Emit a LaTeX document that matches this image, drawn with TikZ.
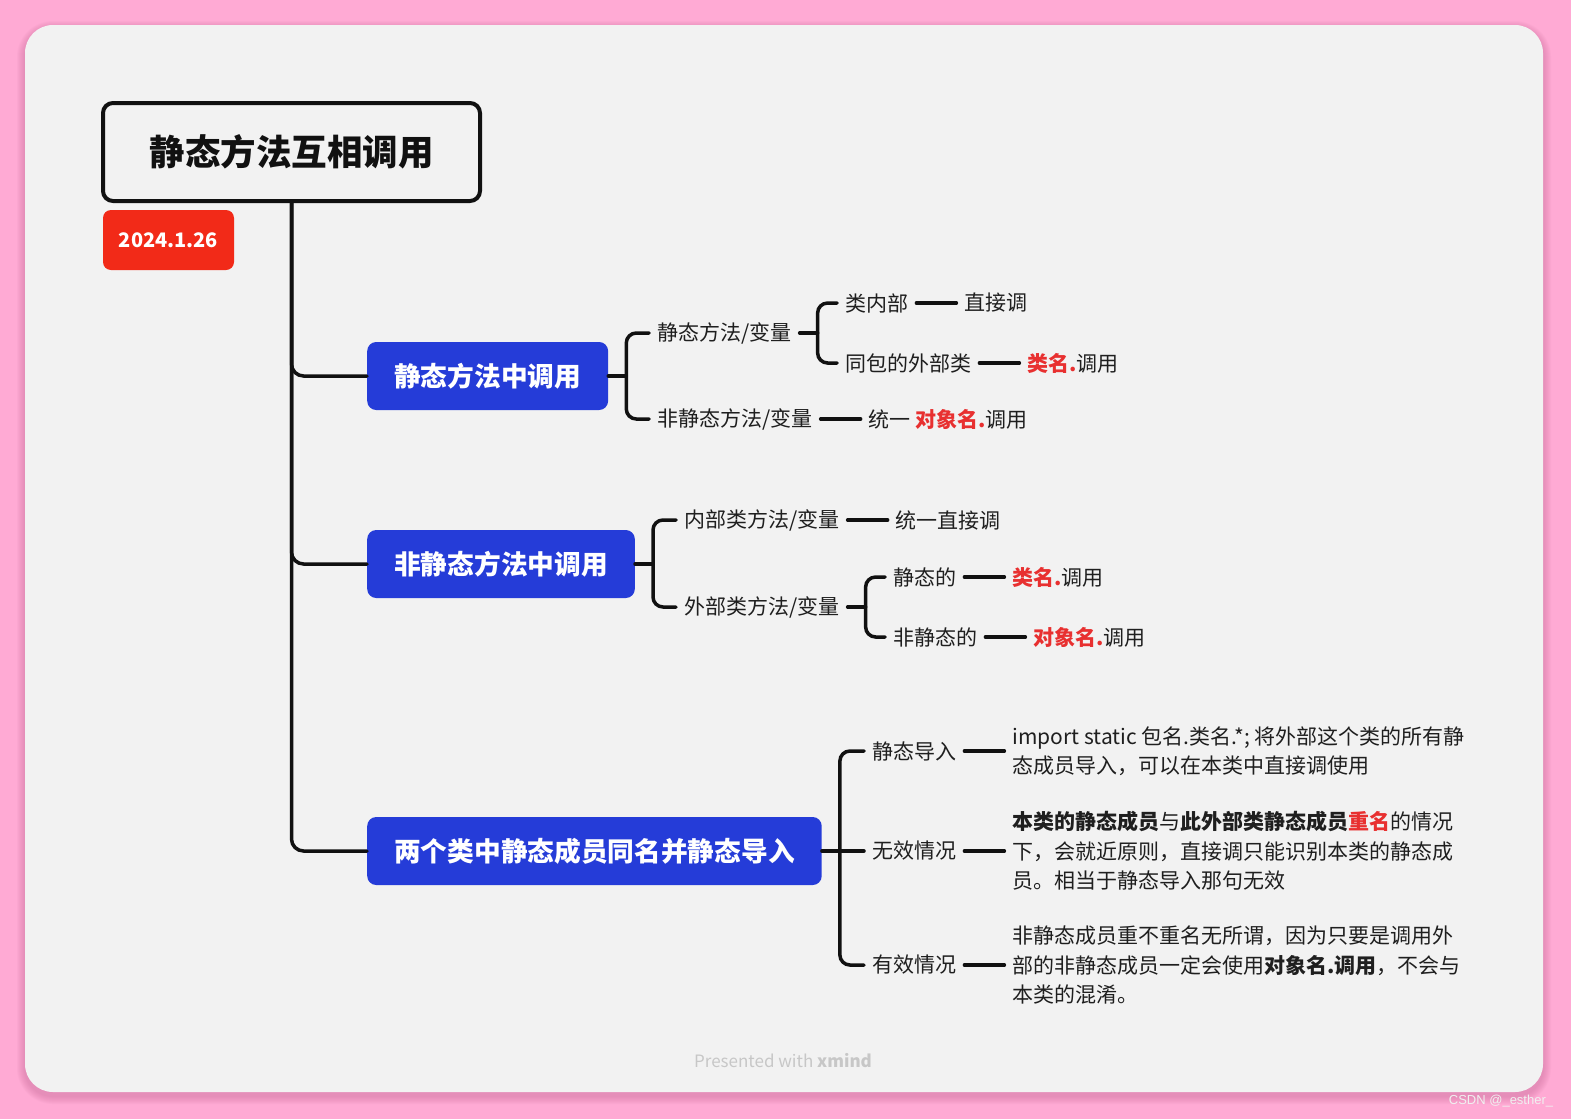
\documentclass[tikz,border=0pt]{standalone}
\usepackage{fontspec}
\setmainfont{Noto Sans CJK SC}
\newfontfamily\markfont{Liberation Sans}
\usepackage{xcolor}
\usetikzlibrary{positioning}

\definecolor{pagepink}{HTML}{FFAAD4}
\definecolor{shadepink}{HTML}{C0608F}
\definecolor{cardgray}{HTML}{F2F2F2}
\definecolor{topicblue}{HTML}{253CD8}
\definecolor{datered}{HTML}{F22A18}
\definecolor{keyred}{HTML}{E83030}
\definecolor{inkdark}{HTML}{111111}
\definecolor{textdark}{HTML}{1F1F1F}

\newcommand{\kw}[1]{\textcolor{keyred}{\textbf{#1}}}

\tikzset{
  conn/.style={inkdark, line width=3.5pt, line cap=round},
  bracket/.style={conn, rounded corners=10pt},
  roottopic/.style={draw=inkdark, line width=4pt, rounded corners=10pt, fill=cardgray,
    minimum width=377pt, minimum height=98pt, text=inkdark,
    font=\fontsize{35.5}{40}\selectfont\bfseries},
  datetag/.style={fill=datered, rounded corners=8pt, text=white,
    minimum width=131pt, minimum height=60pt, font=\fontsize{20}{24}\selectfont\bfseries},
  maintopic/.style={fill=topicblue, rounded corners=9pt, text=white, anchor=west,
    minimum height=68pt, inner xsep=27pt, font=\fontsize{26.7}{30}\selectfont\bfseries},
  subtopic/.style={text=textdark, anchor=west, inner xsep=8pt, inner ysep=2pt,
    font=\fontsize{21}{29.5}\selectfont},
  note/.style={subtopic, align=left},
}

\begin{document}
\begin{tikzpicture}[x=1pt, y=-1pt]

  % page and card
  \fill[pagepink] (0,0) rectangle (1571,1119);
  \useasboundingbox (0,0) rectangle (1571,1119);
  \foreach \d in {1,...,8}
    \fill[shadepink, opacity=0.05, rounded corners={28+\d}]
      (25-\d,25-\d+4) rectangle (1543+\d,1092+\d+4);
  \fill[cardgray, rounded corners=28pt] (25,25) rectangle (1543,1092);

  % root
  \node[roottopic] (root) at (291.5,152) {静态方法互相调用};
  \node[datetag] (date) at (168.5,240) {2024.1.26};

  % main topics
  \node[maintopic] (m1) at (367,376) {静态方法中调用};
  \node[maintopic] (m2) at (367,564) {非静态方法中调用};
  \node[maintopic] (m3) at (367,851) {两个类中静态成员同名并静态导入};

  \draw[conn, rounded corners=12pt] (root.south) |- (m1.west);
  \draw[conn, rounded corners=12pt] (root.south) |- (m2.west);
  \draw[conn, rounded corners=12pt] (root.south) |- (m3.west);

  % first branch
  \node[subtopic] (c1a) at (649,333) {静态方法/变量};
  \node[subtopic] (c1b) at (649,419) {非静态方法/变量};
  \draw[conn] (m1.east) -- ++(18,0) coordinate (b1);
  \draw[bracket] (c1a.west) -| (b1) |- (c1b.west);

  \node[subtopic] (c1aa) at (837,303) {类内部};
  \node[subtopic] (c1ab) at (837,363) {同包的外部类};
  \draw[conn] (c1a.east) -- ++(18,0) coordinate (b1a);
  \draw[bracket] (c1aa.west) -| (b1a) |- (c1ab.west);

  \node[subtopic, right=40pt of c1aa] (l1aa) {直接调};
  \node[subtopic, right=40pt of c1ab] (l1ab) {\kw{类名.}调用};
  \node[subtopic, right=40pt of c1b] (l1b) {统一 \kw{对象名.}调用};
  \draw[conn] (c1aa) -- (l1aa);
  \draw[conn] (c1ab) -- (l1ab);
  \draw[conn] (c1b) -- (l1b);

  % second branch
  \node[subtopic] (c2a) at (676,520) {内部类方法/变量};
  \node[subtopic] (c2b) at (676,607) {外部类方法/变量};
  \draw[conn] (m2.east) -- ++(18,0) coordinate (b2);
  \draw[bracket] (c2a.west) -| (b2) |- (c2b.west);

  \node[subtopic, right=40pt of c2a] (l2a) {统一直接调};
  \draw[conn] (c2a) -- (l2a);

  \node[subtopic] (c2ba) at (885,577) {静态的};
  \node[subtopic] (c2bb) at (885,637) {非静态的};
  \draw[conn] (c2b.east) -- ++(18,0) coordinate (b2b);
  \draw[bracket] (c2ba.west) -| (b2b) |- (c2bb.west);

  \node[subtopic, right=40pt of c2ba] (l2ba) {\kw{类名.}调用};
  \node[subtopic, right=40pt of c2bb] (l2bb) {\kw{对象名.}调用};
  \draw[conn] (c2ba) -- (l2ba);
  \draw[conn] (c2bb) -- (l2bb);

  % third branch
  \node[subtopic] (c3a) at (864,751) {静态导入};
  \node[subtopic] (c3b) at (864,851) {无效情况};
  \node[subtopic] (c3c) at (864,965) {有效情况};
  \draw[conn] (m3.east) -- ++(18,0) coordinate (b3);
  \draw[bracket] (c3a.west) -| (b3) |- (c3c.west);
  \draw[conn] (b3) -- (c3b.west);

  \node[note, right=40pt of c3a] (n3a)
    {import static 包名.类名.*; 将外部这个类的所有静\\态成员导入，可以在本类中直接调使用};
  \node[note, right=40pt of c3b] (n3b)
    {\textbf{本类的静态成员}与\textbf{此外部类静态成员}\kw{重名}的情况\\下，会就近原则，直接调只能识别本类的静态成\\员。相当于静态导入那句无效};
  \node[note, right=40pt of c3c] (n3c)
    {非静态成员重不重名无所谓，因为只要是调用外\\部的非静态成员一定会使用\textbf{对象名.调用}，不会与\\本类的混淆。};
  \draw[conn] (c3a) -- (n3a);
  \draw[conn] (c3b) -- (n3b);
  \draw[conn] (c3c) -- (n3c);

  % footer marks
  \node[text=black!22, font=\fontsize{17}{20}\selectfont] (brand) at (783,1061)
    {Presented with \textbf{xmind}};
  \node[text=white!88!gray, font=\markfont\fontsize{13}{15}\selectfont] (csdn) at (1501,1101)
    {CSDN @\_esther\_};

\end{tikzpicture}
\end{document}
